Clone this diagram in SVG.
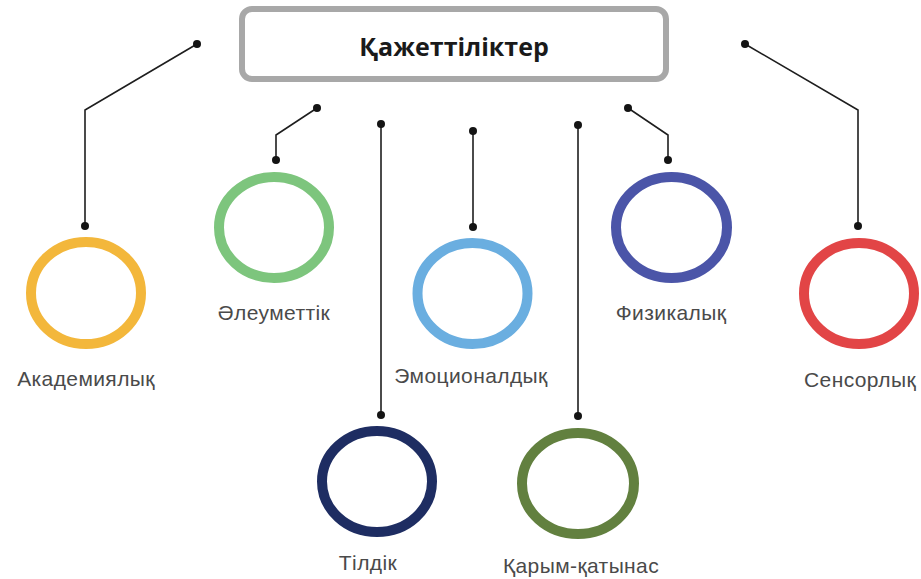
<svg xmlns="http://www.w3.org/2000/svg" width="921" height="579" viewBox="0 0 921 579">
<style>
.ring{fill:none;stroke-width:10}
.lbl{font-family:"Liberation Sans",Arial,sans-serif;font-size:21px;letter-spacing:0.4px;fill:#4a4a4a;text-anchor:middle}
.ln{fill:none;stroke:#1e1e1e;stroke-width:1.6}
.dot{fill:#141414}
</style>
<rect width="921" height="579" fill="#fff"/>
<g id="title">
<rect x="242" y="9" width="424" height="70" rx="10" fill="#fff" stroke="#a8a8a8" stroke-width="6"/>
<text x="454" y="56" text-anchor="middle" font-family="'Open Sans','Noto Sans',sans-serif" font-weight="bold" font-size="25" fill="#1a1a1a">Қажеттіліктер</text>
</g>
<g id="connectors">
<polyline class="ln" points="197,44 85,110 85,226"/>
<polyline class="ln" points="317,108 276,135 276,160"/>
<line class="ln" x1="381" y1="124" x2="381" y2="415"/>
<line class="ln" x1="473" y1="131" x2="473" y2="227"/>
<line class="ln" x1="578" y1="125" x2="578" y2="416"/>
<polyline class="ln" points="628,108 668,135 668,160"/>
<polyline class="ln" points="745,44 858,110 858,226"/>
<circle class="dot" cx="197" cy="44" r="4"/><circle class="dot" cx="85" cy="226" r="4"/>
<circle class="dot" cx="317" cy="108" r="4"/><circle class="dot" cx="276" cy="160" r="4"/>
<circle class="dot" cx="381" cy="124" r="4"/><circle class="dot" cx="381" cy="415" r="4"/>
<circle class="dot" cx="473" cy="131" r="4"/><circle class="dot" cx="473" cy="227" r="4"/>
<circle class="dot" cx="578" cy="125" r="4"/><circle class="dot" cx="578" cy="416" r="4"/>
<circle class="dot" cx="628" cy="108" r="4"/><circle class="dot" cx="668" cy="160" r="4"/>
<circle class="dot" cx="745" cy="44" r="4"/><circle class="dot" cx="858" cy="226" r="4"/>
</g>
<g id="academic">
<ellipse class="ring" cx="86" cy="293" rx="55" ry="51" stroke="#f3b73b"/>
<text class="lbl" x="86" y="386">Академиялық</text>
</g>
<g id="social">
<ellipse class="ring" cx="274" cy="227.5" rx="55" ry="50.5" stroke="#7dc57d"/>
<text class="lbl" x="274" y="320">Әлеуметтік</text>
</g>
<g id="language">
<ellipse class="ring" cx="377" cy="481.5" rx="55" ry="50.5" stroke="#1e2d62"/>
<text class="lbl" x="368" y="570">Тілдік</text>
</g>
<g id="emotional">
<ellipse class="ring" cx="472.5" cy="293.5" rx="55" ry="50.5" stroke="#6aaee0"/>
<text class="lbl" x="471" y="383">Эмоционалдық</text>
</g>
<g id="communication">
<ellipse class="ring" cx="578" cy="483.5" rx="56" ry="50.5" stroke="#62803f"/>
<text class="lbl" x="581" y="573">Қарым-қатынас</text>
</g>
<g id="physical">
<ellipse class="ring" cx="671.5" cy="227.5" rx="55.5" ry="50.5" stroke="#4b55a8"/>
<text class="lbl" x="671" y="320">Физикалық</text>
</g>
<g id="sensory">
<ellipse class="ring" cx="859" cy="293.5" rx="55" ry="50.5" stroke="#e24546"/>
<text class="lbl" x="860" y="387">Сенсорлық</text>
</g>
</svg>
